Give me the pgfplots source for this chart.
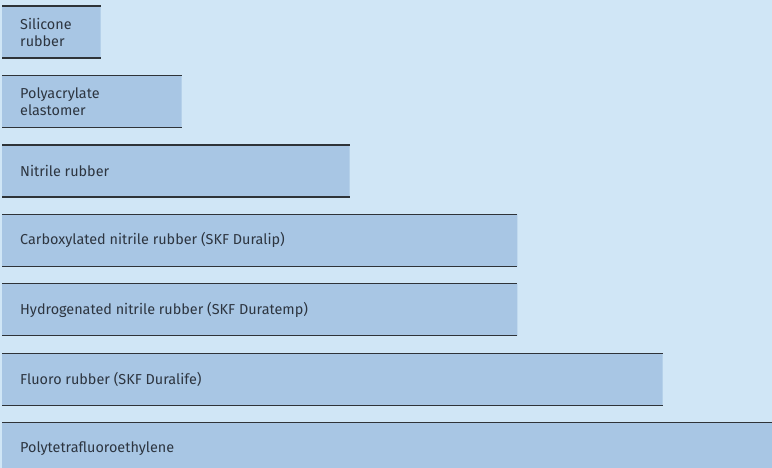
\documentclass[border=0pt]{standalone}
\usepackage{pgfplots}
\pgfplotsset{compat=1.18}
\usepackage{fontspec}
\setmainfont{Fira Sans}
\definecolor{bgblue}{HTML}{D0E6F6}
\definecolor{barblue}{HTML}{A8C6E4}
\definecolor{edgegray}{HTML}{2E3338}
\definecolor{txt}{HTML}{2D3540}
\begin{document}
\begin{tikzpicture}[x=1bp,y=1bp]
\begin{axis}[
  scale only axis,
  width=772bp, height=468bp,
  xmin=-2, xmax=770,
  ymin=0, ymax=468,
  axis line style={draw=none},
  axis background/.style={fill=bgblue},
  ticks=none,
  xbar, bar width=52,
  clip=true,
  unbounded coords=jump,
]
\addplot[fill=barblue, draw=none] coordinates {
  (98.5,436) (179.5,366.55) (347.5,297.1) (515.3,227.65) (515.3,158.2) (660.7,88.75) (800,19.3)
};
\addplot[xbar=0pt, draw=edgegray, line width=1.4bp, mark=none, sharp plot] coordinates {
  (0,462) (98.5,462) (nan,nan)
  (0,410) (98.5,410) (nan,nan)
  (0,392.55) (179.5,392.55) (nan,nan)
  (0,340.55) (179.5,340.55) (nan,nan)
  (0,323.1) (347.5,323.1) (nan,nan)
  (0,271.1) (347.5,271.1) (nan,nan)
  (0,253.65) (515.3,253.65) (nan,nan)
  (0,201.65) (515.3,201.65) (nan,nan)
  (0,184.2) (515.3,184.2) (nan,nan)
  (0,132.2) (515.3,132.2) (nan,nan)
  (0,114.75) (660.7,114.75) (nan,nan)
  (0,62.75) (660.7,62.75) (nan,nan)
  (0,45.3) (800,45.3)
};
\begin{scope}[every node/.style={anchor=west, text=txt, font=\fontsize{14.4bp}{17bp}\selectfont, align=left, inner sep=0pt}]
\node at (axis cs:18,436) {Silicone\\rubber};
\node at (axis cs:18,366.55) {Polyacrylate\\elastomer};
\node at (axis cs:18,297.1) {Nitrile rubber};
\node at (axis cs:18,227.65) {Carboxylated nitrile rubber (SKF Duralip)};
\node at (axis cs:18,158.2) {Hydrogenated nitrile rubber (SKF Duratemp)};
\node at (axis cs:18,88.75) {Fluoro rubber (SKF Duralife)};
\node at (axis cs:18,19.3) {Polytetrafluoroethylene};
\end{scope}
\end{axis}
\end{tikzpicture}
\end{document}
